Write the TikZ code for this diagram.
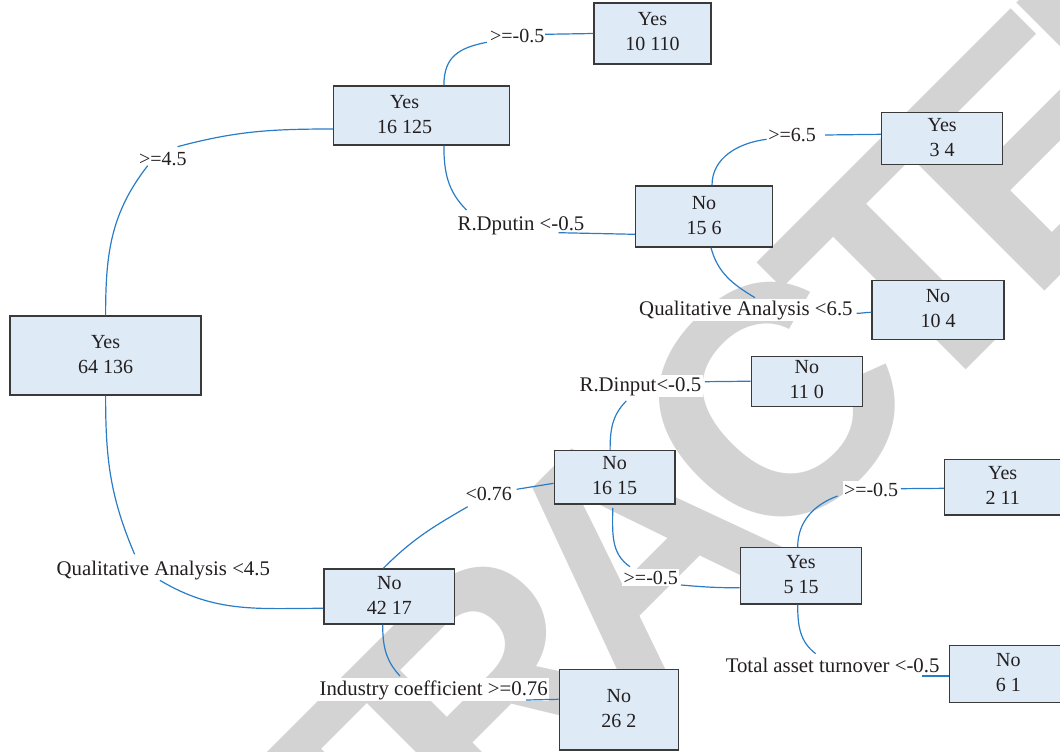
\documentclass[tikz,border=0pt]{standalone}
\usepackage{fontspec}
\setmainfont{Liberation Serif}
\newfontfamily\stampfont{Liberation Sans}
\usetikzlibrary{calc}
\pgfdeclarelayer{stamp}
\pgfsetlayers{stamp,main}
\definecolor{cellfill}{HTML}{DEEAF6}
\definecolor{cellrule}{HTML}{3A3A3A}
\definecolor{branch}{HTML}{2A7CC7}
\definecolor{stampgray}{HTML}{D3D3D3}
\definecolor{ink}{HTML}{231F20}
% two centred lines; optional argument shifts them sideways
\newcommand\cell[3][0pt]{\kern#1\begin{tabular}{@{}c@{}}#2\\#3\end{tabular}\kern-#1}
% tightly tracked stamp lettering
\newcommand\stampword{R\kern-33pt E\kern-33pt T\kern-33pt R\kern-33pt A\kern-33pt C\kern-33pt T\kern-33pt E\kern-33pt D}

\begin{document}
\begin{tikzpicture}[x=1pt,y=-1pt,
  leaf/.style={draw=cellrule, line width=1.4pt, fill=cellfill, inner sep=0pt,
    text=ink, font=\fontsize{20}{25}\selectfont},
  cond/.style={fill=white, inner xsep=1.5pt, inner ysep=2pt, text=ink,
    font=\fontsize{20}{24}\selectfont, anchor=base},
  wordy/.style={cond, font=\fontsize{20.8}{24}\selectfont},
  link/.style={draw=branch, line width=1.2pt}]
\useasboundingbox (0,0) rectangle (1060,752);
\clip (0,0) rectangle (1060,752);

% stamp across the sheet
\begin{pgfonlayer}{stamp}
\node[text=stampgray, font=\stampfont\bfseries\fontsize{325}{325}\selectfont,
  rotate=45, inner sep=0pt] (stamp) at (631,547) {\stampword};
\end{pgfonlayer}

% split conditions
\node[cond]  (l1)  at (162.8,165.7) {>=4.5};
\node[cond]  (l2)  at (517.2,42.7)  {>=-0.5};
\node[wordy] (l3)  at (521,230.7)   {R.Dputin <-0.5};
\node[cond]  (l4)  at (792.2,141.7) {>=6.5};
\node[wordy] (l5)  at (745.9,315)   {Qualitative Analysis <6.5};
\node[wordy] (l6)  at (163.3,575.3) {Qualitative Analysis <4.5};
\node[cond]  (l7)  at (488.8,500.7) {<0.76};
\node[wordy] (l8)  at (640.4,391)   {R.Dinput<-0.5};
\node[cond]  (l9)  at (650.8,584)   {>=-0.5};
\node[cond]  (l10) at (871.1,496.7) {>=-0.5};
\node[wordy] (l11) at (832.6,672.7) {Total asset turnover <-0.5};
\node[wordy] (l12) at (433.7,695)   {Industry coefficient >=0.76};

% tree nodes
\node[leaf, minimum width=191,   minimum height=79]   (root) at (105.6,355.5) {\cell{Yes}{64 136}};
\node[leaf, minimum width=175.8, minimum height=59]   (b2)   at (421.6,115.5) {\cell[-17pt]{Yes}{16 125}};
\node[leaf, minimum width=116.7, minimum height=61]   (b3)   at (652.5,33.5)  {\cell{Yes}{10 110}};
\node[leaf, minimum width=121,   minimum height=51.6] (b4)   at (942.1,138.5) {\cell{Yes}{3 4}};
\node[leaf, minimum width=137,   minimum height=61]   (b5)   at (704,216.5)   {\cell{No}{15 6}};
\node[leaf, minimum width=132,   minimum height=58.7] (b6)   at (938,310)     {\cell{No}{10 4}};
\node[leaf, minimum width=111,   minimum height=49.7] (b7)   at (806.8,381.2) {\cell{No}{11 0}};
\node[leaf, minimum width=120.7, minimum height=53.3] (b8)   at (614.7,477.3) {\cell{No}{16 15}};
\node[leaf, minimum width=116,   minimum height=55.3] (b9)   at (1002.7,487.3) {\cell{Yes}{2 11}};
\node[leaf, minimum width=121.3, minimum height=56.3] (b10)  at (801,575.8)   {\cell{Yes}{5 15}};
\node[leaf, minimum width=118,   minimum height=56.6] (b11)  at (1008.3,674)  {\cell{No}{6 1}};
\node[leaf, minimum width=119,   minimum height=80.7] (b12)  at (618.9,709.7) {\cell{No}{26 2}};
\node[leaf, minimum width=130.8, minimum height=55]   (b13)  at (389.3,596.5) {\cell{No}{42 17}};

% branches: parent -> condition -> child
\draw[link] (root.north) to[out=90,in=232] ($(l1.base)+(-15.1,0)$);
\draw[link] ($(l1.base)+(14.7,-19)$) to[out=15,in=180] ($(b2.west)+(0,13.5)$);

\draw[link] ($(b2.north)+(22.3,0)$) to[out=90,in=191,looseness=1.2] ($(l2.base)+(-30.4,-0.4)$);
\draw[link] ($(l2.base)+(28,-8.4)$) -- (b3.west);

\draw[link] ($(b2.south)+(22.3,0)$) to[out=-90,in=135] ($(l3.base)+(-54.5,-20.7)$);
\draw[link] ($(l3.base)+(37.5,2)$) -- ($(b5.west)+(0,17.8)$);

\draw[link] ($(b5.north)+(8,0)$) to[out=90,in=187] ($(l4.base)+(-25.5,-2.4)$);
\draw[link] ($(l4.base)+(32.8,-6.7)$) -- ($(b4.west)+(0,-4.2)$);

\draw[link] ($(b5.south)+(7,0)$) to[out=-75,in=149] ($(l5.base)+(9.1,-17.3)$);
\draw[link] ($(l5.base)+(110.8,-1.7)$) to[out=0,in=180] ($(b6.west)+(0,2.3)$);

\draw[link] (root.south) to[out=-90,in=113] ($(l6.base)+(-28.7,-21)$);
\draw[link] ($(l6.base)+(-3.4,5)$) to[out=-31,in=180] ($(b13.west)+(0,11.8)$);

\draw[link] ($(b13.north)+(-6,0)$) to[out=45,in=210] ($(l7.base)+(-21.1,6)$);
\draw[link] ($(l7.base)+(27.8,-11.4)$) -- ($(b8.west)+(0,6)$);

\draw[link] ($(b8.north)+(-4.6,0)$) to[out=90,in=225] ($(l8.base)+(-14.1,10)$);
\draw[link] ($(l8.base)+(64.4,-9.3)$) -- (b7.west);

\draw[link] ($(b8.south)+(-2,3.3)$) to[out=-90,in=146] ($(l9.base)+(-20.8,-17.3)$);
\draw[link] ($(l9.base)+(30.2,1)$) to[out=-5,in=180] ($(b10.west)+(0,12)$);

\draw[link] ($(b10.north)+(-3.3,0)$) to[out=90,in=200] ($(l10.base)+(-33.5,-0.7)$);
\draw[link] ($(l10.base)+(29.8,-8)$) -- ($(b9.west)+(0,1)$);

\draw[link] ($(b10.south)+(-3.3,0)$) to[out=-90,in=143] ($(l11.base)+(-16.9,-19)$);
\draw[link] ($(l11.base)+(89.6,3.3)$) -- ($(b11.west)+(0,2)$);

\draw[link] ($(b13.south)+(-6.6,0)$) to[out=-90,in=133] ($(l12.base)+(-33.7,-19)$);
\draw[link] ($(l12.base)+(92.3,5)$) -- ($(b12.west)+(0,-10.4)$);
\end{tikzpicture}
\end{document}
